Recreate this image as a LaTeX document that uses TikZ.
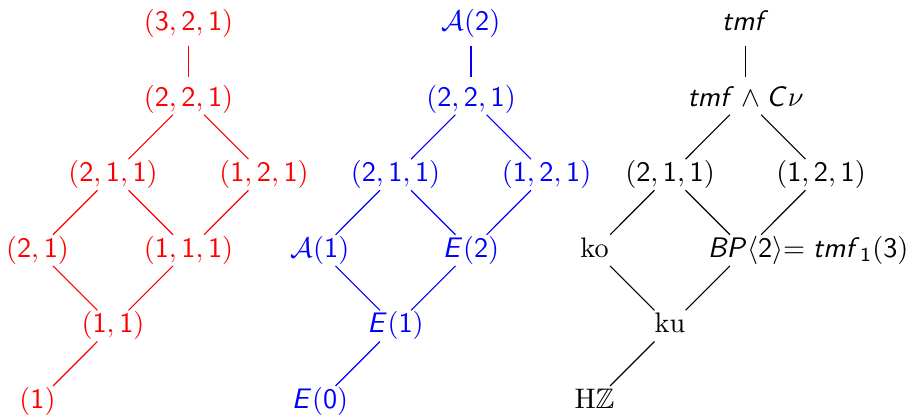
\documentclass[tikz,border=0pt]{standalone}
\usepackage{amssymb}
\DeclareSymbolFont{sfop}{OT1}{cmss}{m}{n}
\DeclareMathSymbol{0}{\mathalpha}{sfop}{`0}
\DeclareMathSymbol{1}{\mathalpha}{sfop}{`1}
\DeclareMathSymbol{2}{\mathalpha}{sfop}{`2}
\DeclareMathSymbol{3}{\mathalpha}{sfop}{`3}
\DeclareMathSymbol{4}{\mathalpha}{sfop}{`4}
\DeclareMathSymbol{5}{\mathalpha}{sfop}{`5}
\DeclareMathSymbol{6}{\mathalpha}{sfop}{`6}
\DeclareMathSymbol{7}{\mathalpha}{sfop}{`7}
\DeclareMathSymbol{8}{\mathalpha}{sfop}{`8}
\DeclareMathSymbol{9}{\mathalpha}{sfop}{`9}
\DeclareMathAlphabet{\mathsfit}{OT1}{cmss}{m}{it}
\tikzset{
  lab/.style={inner sep=0pt, text height=7.5pt, text depth=2.5pt},
  ln/.style={line width=0.4pt, shorten >=7.8pt, shorten <=7.8pt},
}
\begin{document}
\begin{tikzpicture}[x=0.354pt,y=-0.354pt]
\useasboundingbox (0,0) rectangle (911,416);
% red lattice
\begin{scope}[red]
\node[lab] (r321) at (188.5,23.5) {$(3,2,1)$};
\node[lab] (r221) at (188.5,99.1) {$(2,2,1)$};
\node[lab] (r211) at (113,174.7) {$(2,1,1)$};
\node[lab] (r121) at (264,174.7) {$(1,2,1)$};
\node[lab] (r21) at (37.5,250.3) {$(2,1)$};
\node[lab] (r111) at (188.5,250.3) {$(1,1,1)$};
\node[lab] (r11) at (113,325.9) {$(1,1)$};
\node[lab] (r1) at (37.5,401.5) {$(1)$};
\draw[ln] (r321.center) -- (r221.center);
\draw[ln] (r221.center) -- (r211.center);
\draw[ln] (r221.center) -- (r121.center);
\draw[ln] (r211.center) -- (r21.center);
\draw[ln] (r211.center) -- (r111.center);
\draw[ln] (r121.center) -- (r111.center);
\draw[ln] (r21.center) -- (r11.center);
\draw[ln] (r111.center) -- (r11.center);
\draw[ln] (r11.center) -- (r1.center);
\end{scope}
% blue lattice
\begin{scope}[blue]
\node[lab] (bA2) at (471,23.5) {$\mathcal{A}(2)$};
\node[lab] (b221) at (471,99.1) {$(2,2,1)$};
\node[lab] (b211) at (395.5,174.7) {$(2,1,1)$};
\node[lab] (b121) at (546.5,174.7) {$(1,2,1)$};
\node[lab] (bA1) at (320,250.3) {$\mathcal{A}(1)$};
\node[lab] (bE2) at (471,250.3) {$\mathsfit{E}(2)$};
\node[lab] (bE1) at (395.5,325.9) {$\mathsfit{E}(1)$};
\node[lab] (bE0) at (320,401.5) {$\mathsfit{E}(0)$};
\draw[ln] (bA2.center) -- (b221.center);
\draw[ln] (b221.center) -- (b211.center);
\draw[ln] (b221.center) -- (b121.center);
\draw[ln] (b211.center) -- (bA1.center);
\draw[ln] (b211.center) -- (bE2.center);
\draw[ln] (b121.center) -- (bE2.center);
\draw[ln] (bA1.center) -- (bE1.center);
\draw[ln] (bE2.center) -- (bE1.center);
\draw[ln] (bE1.center) -- (bE0.center);
\end{scope}
% black lattice
\node[lab] (tmf) at (745.5,23.5) {$\mathsfit{tmf}$};
\node[lab] (tmfc) at (745.5,99.1) {$\mathsfit{tmf}\wedge \mathsfit{C}\nu$};
\node[lab] (k211) at (670,174.7) {$(2,1,1)$};
\node[lab] (k121) at (821,174.7) {$(1,2,1)$};
\node[lab] (ko) at (594.5,250.3) {$\mathrm{ko}$};
\node[lab] (bp) at (745.5,250.3) {$\mathsfit{BP}\langle 2\rangle\rlap{$=\mathsfit{tmf}_1(3)$}$};
\node[lab] (ku) at (670,325.9) {$\mathrm{ku}$};
\node[lab] (hz) at (594.5,401.5) {$\mathrm{H}\mathbb{Z}$};
\draw[ln] (tmf.center) -- (tmfc.center);
\draw[ln] (tmfc.center) -- (k211.center);
\draw[ln] (tmfc.center) -- (k121.center);
\draw[ln] (k211.center) -- (ko.center);
\draw[ln] (k211.center) -- (bp.center);
\draw[ln] (k121.center) -- (bp.center);
\draw[ln] (ko.center) -- (ku.center);
\draw[ln] (bp.center) -- (ku.center);
\draw[ln] (ku.center) -- (hz.center);
\end{tikzpicture}
\end{document}
